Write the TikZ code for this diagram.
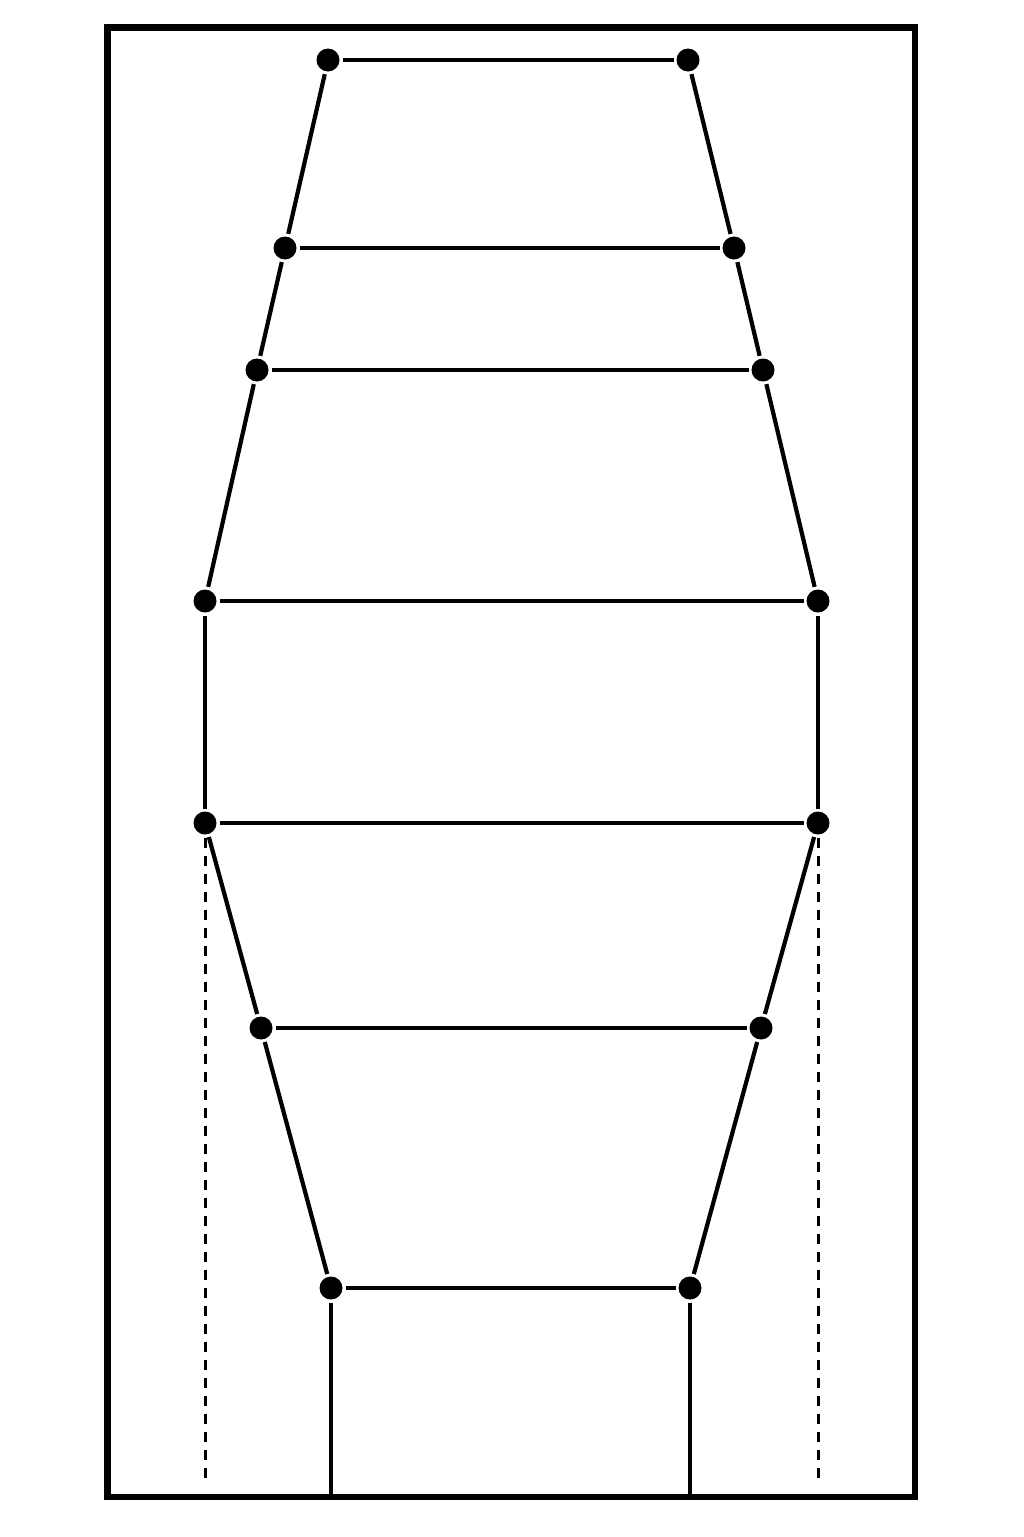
\documentclass[tikz,border=0pt]{standalone}
\usepackage{tikz}

\begin{document}
\begin{tikzpicture}[x=1pt,y=1pt,yscale=-1,xscale=1,
  pt/.style={circle,fill=black,inner sep=0pt,minimum size=23,outer sep=3},
  rung/.style={line width=4.2},
  guide/.style={line width=3,dash pattern=on 10 off 8}]
\useasboundingbox (0,0) rectangle (1023,1537);

%Shape: Rectangle [id:frame]
\draw [line width=6.5] (107.5,27.5) -- (915,27.5) -- (915,1497) -- (107.5,1497) -- cycle ;

% Joints
\node [pt] (l1) at (328,60) {};
\node [pt] (r1) at (688,60) {};
\node [pt] (l2) at (285,248) {};
\node [pt] (r2) at (734,248) {};
\node [pt] (l3) at (257,370) {};
\node [pt] (r3) at (763,370) {};
\node [pt] (l4) at (205,601) {};
\node [pt] (r4) at (818,601) {};
\node [pt] (l5) at (205,823) {};
\node [pt] (r5) at (818,823) {};
\node [pt] (l6) at (261,1028) {};
\node [pt] (r6) at (761,1028) {};
\node [pt] (l7) at (331,1288) {};
\node [pt] (r7) at (690,1288) {};

% Free ends
\coordinate (bl) at (331,1495);
\coordinate (br) at (690,1495);
\coordinate (gl) at (205,1482);
\coordinate (gr) at (818,1482);

%Straight Lines [id:rungs]
\foreach \i in {1,...,7}
  \draw [rung] (l\i) -- (r\i);

%Straight Lines [id:sides]
\foreach \i/\j in {1/2,2/3,3/4,4/5,5/6,6/7}
  {\draw [rung] (l\i) -- (l\j);
   \draw [rung] (r\i) -- (r\j);}

%Straight Lines [id:legs]
\draw [line width=3.5] (l7) -- (bl);
\draw [line width=3.5] (r7) -- (br);

%Straight Lines [id:guides]
\draw [guide] (l5) -- (gl);
\draw [guide] (r5) -- (gr);

\end{tikzpicture}
\end{document}
